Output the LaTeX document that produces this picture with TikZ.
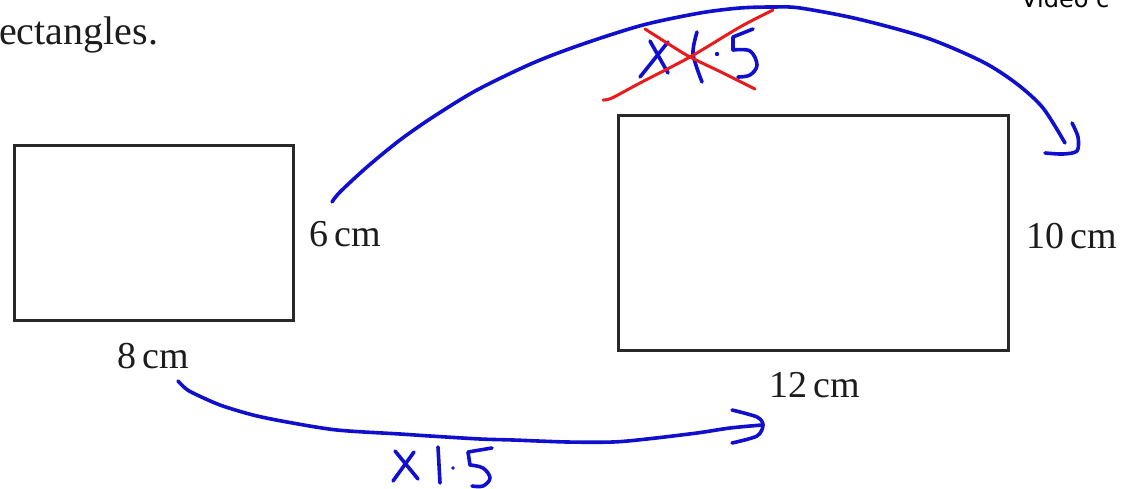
\documentclass[tikz,border=0pt]{standalone}
\usepackage{fontspec}
\setmainfont{Liberation Serif}
\newfontfamily\vidfont{DejaVu Sans}
\definecolor{penblue}{RGB}{15,15,205}
\definecolor{penred}{RGB}{232,28,28}
\definecolor{inkgray}{RGB}{40,40,40}
\definecolor{txt}{RGB}{28,28,28}
\tikzset{
  rectbox/.style={draw=inkgray, line width=3pt, inner sep=0pt, fill=none},
  dimlabel/.style={anchor=base west, inner sep=0pt, text=txt, font=\fontsize{38}{40}\selectfont},
  penstroke/.style={draw=penblue, line width=3.6pt, line cap=round, line join=round},
  redstroke/.style={draw=penred, line width=3pt, line cap=round, line join=round},
}
\begin{document}
\begin{tikzpicture}[x=1pt,y=-1pt]
\useasboundingbox (0,0) rectangle (1124,489);
\fill[white] (0,0) rectangle (1124,489);

% header texts
\node[anchor=base west, inner sep=0pt, text=txt, font=\fontsize{40}{42}\selectfont] (head) at (-1,45) {ectangles.};
\node[anchor=base west, inner sep=0pt, text=black, font=\vidfont\fontsize{24}{26}\selectfont] (video) at (1021,8) {Video c};

% rectangles
\node[rectbox, minimum width=279pt, minimum height=174pt] (small) at (153.5,233) {};
\node[rectbox, minimum width=390pt, minimum height=234pt] (large) at (813,233) {};

% dimension labels
\node[dimlabel] (w6) at (309,247) {6\thinspace cm};
\node[dimlabel] (w8) at (117,368) {8\thinspace cm};
\node[dimlabel] (w10) at (1026,248) {10\thinspace cm};
\node[dimlabel] (w12) at (769,397) {12\thinspace cm};

% arc endpoints
\coordinate (topstart) at (332,202);
\coordinate (topend) at (1065,143);
\coordinate (botstart) at (178,381);
\coordinate (botend) at (762,425);

% top arc (6 cm -> 10 cm)
\draw[penstroke] plot[smooth, tension=0.5] coordinates {(topstart) (340,192) (367,167) (400,140) (433,117) (477,90) (533,63) (583,44) (643,25) (700,13) (740,8) (773,7) (800,8) (858,19) (927,38) (983,62) (1017,84) (1043,108) (topend)};
\draw[penstroke] plot[smooth, tension=0.5] coordinates {(1072,123) (1078,137) (1077,151) (1063,154) (1045,153)};

% crossed-out x1.5
\draw[penstroke] (650,41) -- (668,73);
\draw[penstroke] (668,42) -- (640,77);
\draw[penstroke] plot[smooth] coordinates {(697,32) (693,54) (702,82)};
\fill[penblue] (717,54) circle (2.2pt);
\draw[penstroke] (753,29) -- (733,37) -- (733,50);
\draw[penstroke] plot[smooth, tension=0.6] coordinates {(733,50) (750,51) (757,65) (750,75) (738,77)};
\draw[redstroke] plot[smooth, tension=0.5] coordinates {(603,100) (612,98) (640,83) (690,57) (740,27) (773,10)};
\draw[redstroke] plot[smooth, tension=0.5] coordinates {(645,29) (667,43) (690,57) (723,73) (755,89)};

% bottom arc (8 cm -> 12 cm)
\draw[penstroke] plot[smooth, tension=0.5] coordinates {(botstart) (185,388) (193,393) (220,405) (253,415) (287,422) (337,430) (400,434) (430,436) (480,439) (513,440) (567,442) (613,442) (647,439) (697,433) (730,428) (botend)};
\draw[penstroke] plot[smooth, tension=0.5] coordinates {(732,410) (757,417) (763,425) (757,436) (732,443)};

% x1.5 below
\draw[penstroke] (395,451) -- (418,479);
\draw[penstroke] (414,452) -- (393,481);
\draw[penstroke] (438,447) -- (440,483);
\fill[penblue] (453,468) circle (1.8pt);
\draw[penstroke] (492,448) -- (468,452) -- (470,465);
\draw[penstroke] plot[smooth, tension=0.6] coordinates {(470,465) (483,468) (490,478) (483,486) (472,486)};
\end{tikzpicture}
\end{document}
